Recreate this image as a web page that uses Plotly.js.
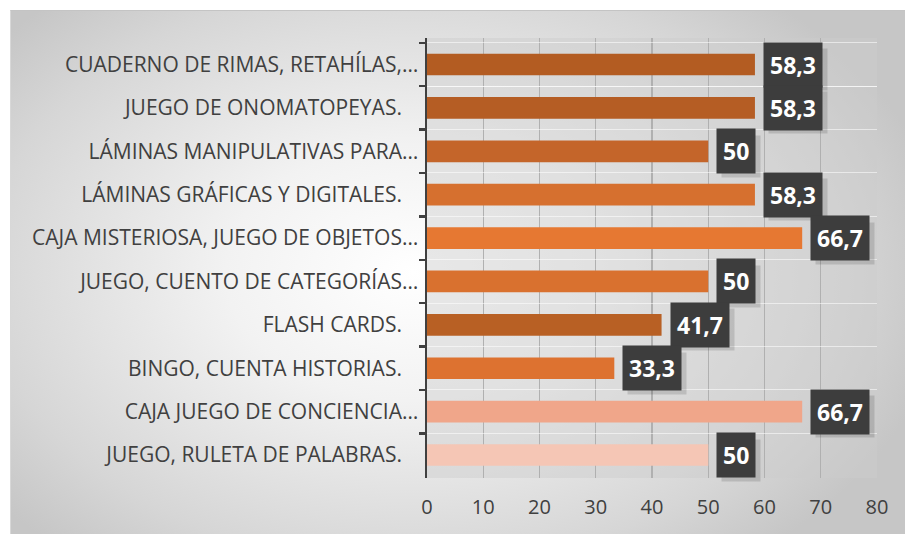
<!DOCTYPE html>
<html>
<head>
<meta charset="utf-8">
<script src="https://cdn.plot.ly/plotly-3.0.1.min.js"></script>
<style>
  html, body { margin: 0; padding: 0; background: #ffffff; }
  #wrap { position: relative; width: 905px; height: 534px; overflow: hidden; }
  #bg { position: absolute; left: 10px; top: 10px; right: 0; bottom: 0;
        border-top: 1px solid #c4c4c4; border-left: 1px solid #d8d8d8;
        background: radial-gradient(ellipse 60% 70% at 45% 50%, #ffffff 0%, #f2f2f2 35%, #d6d6d6 80%, #c6c6c6 100%); }
  #chart { position: absolute; left: 0; top: 0; width: 905px; height: 534px; }
</style>
</head>
<body>
<div id="wrap">
  <div id="bg"></div>
  <div id="chart"></div>
</div>
<script>
const NB = '\u00a0\u00a0\u00a0';
const categories = [
  'CUADERNO DE RIMAS, RETAHÍLAS,…',
  'JUEGO DE ONOMATOPEYAS.' + NB,
  'LÁMINAS MANIPULATIVAS PARA…',
  'LÁMINAS GRÁFICAS Y DIGITALES.' + NB,
  'CAJA MISTERIOSA, JUEGO DE OBJETOS…',
  'JUEGO, CUENTO DE CATEGORÍAS…',
  'FLASH CARDS.' + NB,
  'BINGO, CUENTA HISTORIAS.' + NB,
  'CAJA JUEGO DE CONCIENCIA…',
  'JUEGO, RULETA DE PALABRAS.' + NB
];
const values = [58.3, 58.3, 50, 58.3, 66.7, 50, 41.7, 33.3, 66.7, 50];
const valueLabels = ['58,3', '58,3', '50', '58,3', '66,7', '50', '41,7', '33,3', '66,7', '50'];
const barColors = ['#B35C22', '#B55D24', '#C4652A', '#D6702F', '#E67832', '#D9712F', '#B86024', '#DD7230', '#F0A68A', '#F5C6B5'];
const xTicks = [0, 10, 20, 30, 40, 50, 60, 70, 80];

const trace = {
  type: 'bar',
  orientation: 'h',
  x: values,
  y: categories,
  marker: { color: barColors, line: { width: 0 } },
  width: 0.5,
  hoverinfo: 'none'
};

const PAD = 6;
const FS = 23;
const annotations = [];
// soft shadows behind the label boxes (text-free)
values.forEach((v, i) => {
  const lbl = valueLabels[i];
  const digits = lbl.replace(',', '').length;
  const w = digits * 13.2 + (lbl.includes(',') ? 6 : 0) + 2 * PAD;
  annotations.push({
    x: v, y: categories[i], xref: 'x', yref: 'y',
    text: '\u00a0', showarrow: false,
    xanchor: 'left', yanchor: 'middle', xshift: 8 + 5, yshift: -5,
    width: w, height: 31 + 2 * PAD - 2,
    font: { family: 'Open Sans', size: 10, color: 'rgba(0,0,0,0)' },
    bgcolor: 'rgba(0,0,0,0.13)', borderpad: 0
  });
});
values.forEach((v, i) => {
  annotations.push({
    x: v, y: categories[i], xref: 'x', yref: 'y',
    text: '<b>' + valueLabels[i] + '</b>', showarrow: false,
    xanchor: 'left', yanchor: 'middle', xshift: 8, yshift: 0,
    font: { family: 'Open Sans', size: FS, color: '#ffffff' },
    bgcolor: '#3d3d3d', borderpad: PAD
  });
});

const layout = {
  width: 905, height: 534,
  margin: { l: 427, r: 28, t: 38, b: 56, pad: 0 },
  paper_bgcolor: 'rgba(0,0,0,0)',
  plot_bgcolor: 'rgba(205,205,205,0.45)',
  showlegend: false,
  font: { family: 'Open Sans', color: '#404040' },
  xaxis: {
    range: [0, 80], tickvals: xTicks, ticktext: xTicks.map(String),
    showgrid: true, gridcolor: '#b0b0b0', gridwidth: 1.2,
    zeroline: false, showline: false, ticks: '',
    ticklabelstandoff: 15,
    tickfont: { family: 'Open Sans', size: 20, color: '#404040' },
    fixedrange: true
  },
  yaxis: {
    autorange: 'reversed', type: 'category',
    tickson: 'boundaries', ticks: 'outside', ticklen: 6, tickwidth: 2.5, tickcolor: '#404040',
    showline: true, linecolor: '#404040', linewidth: 2.5,
    showgrid: true, gridcolor: 'rgba(255,255,255,0.55)', gridwidth: 1,
    ticklabelstandoff: 2,
    tickfont: { family: 'Open Sans', size: 21, color: '#404040' },
    fixedrange: true
  },
  bargap: 0.5,
  annotations: annotations
};

Plotly.newPlot('chart', [trace], layout, { displayModeBar: false, staticPlot: true });
</script>
</body>
</html>
